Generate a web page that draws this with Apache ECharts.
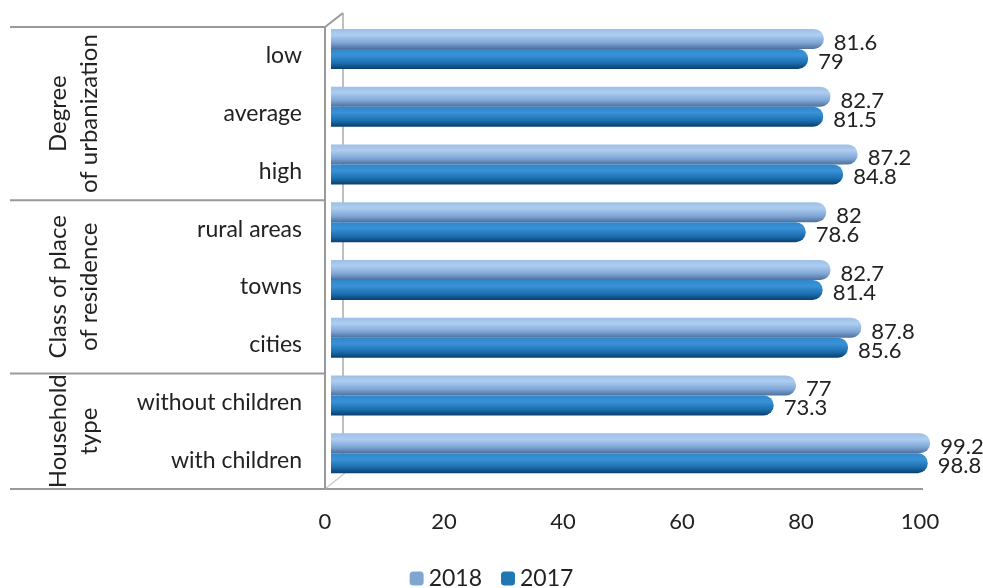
<!DOCTYPE html>
<html><head><meta charset="utf-8">
<script src="https://cdn.jsdelivr.net/npm/echarts@6/dist/echarts.min.js"></script>
<style>html,body{margin:0;padding:0;background:#fff}#c{width:983px;height:588px}</style>
</head><body><div id="c"></div>
<script>
const categories = ['low','average','high','rural areas','towns','cities','without children','with children'];
const groups = ['Degree\nof urbanization','Class of place\nof residence','Household\ntype'];
const groupSizes = [3,3,2];
const values2018 = [81.6,82.7,87.2,82,82.7,87.8,77,99.2];
const values2017 = [79,81.5,84.8,78.6,81.4,85.6,73.3,98.8];
const xTicks = [0,20,40,60,80,100];

const FONT = 'Lato';
const W = 983, H = 588;
const chart = echarts.init(document.getElementById('c'));
const grad = (stops) => new echarts.graphic.LinearGradient(0,0,0,1,stops.map(s=>({offset:s[0],color:s[1]})));
// axis frame (front plane)
const AL = 325, AR = 63, AT = 27, AB = 99;
// bar plane (shifted for depth)
const BL = 331, BR = 48, BT = 20, BB = 106;
const tickMin = xTicks[0], tickMax = xTicks[xTicks.length-1], tickStep = xTicks[1]-xTicks[0];
const labelStyle = {fontSize:22,color:'#222',fontFamily:FONT};
const option = {
  animation:false,
  textStyle:{fontFamily:FONT},
  grid:[{left:BL,right:BR,top:BT,bottom:BB},{left:AL,right:AR,top:AT,bottom:AB}],
  legend:{top:562,left:'center',itemWidth:14,itemHeight:14,itemGap:19,
    textStyle:{fontSize:23,color:'#222',fontFamily:FONT},
    data:[{name:'2018',itemStyle:{color:'#7fa6d1'}},{name:'2017',itemStyle:{color:'#1f78b4'}}]},
  xAxis:[
    {gridIndex:0,type:'value',min:tickMin,max:tickMax,interval:tickStep,show:false},
    {gridIndex:1,type:'value',min:tickMin,max:tickMax,interval:tickStep,
      axisLine:{show:false},axisTick:{show:false},splitLine:{show:false},
      axisLabel:Object.assign({margin:22},labelStyle)}
  ],
  yAxis:[
    {gridIndex:0,type:'category',data:categories,inverse:true,show:false},
    {gridIndex:1,type:'category',data:categories,inverse:true,
      axisLine:{show:true,lineStyle:{color:'#999',width:2}},axisTick:{show:false},
      axisLabel:{fontSize:23,color:'#222',margin:23,fontFamily:FONT}}
  ],
  series:[
    {name:'2018',type:'bar',data:values2018,barWidth:20,barGap:'0%',xAxisIndex:0,yAxisIndex:0,
      itemStyle:{color:grad([[0,'#9dbfe6'],[0.3,'#aecdf0'],[0.7,'#7ea6d6'],[1,'#4f709a']]),borderRadius:[0,10,10,0]},
      label:Object.assign({show:true,position:'right',distance:10,offset:[0,4]},labelStyle)},
    {name:'2017',type:'bar',data:values2017,barWidth:20,xAxisIndex:0,yAxisIndex:0,
      itemStyle:{color:grad([[0,'#2f86cc'],[0.3,'#3a92d6'],[0.7,'#1c6fb0'],[1,'#0b3f6e']]),borderRadius:[0,10,10,0]},
      label:Object.assign({show:true,position:'right',distance:10,offset:[0,3]},labelStyle)}
  ]
};
chart.setOption(option);

// frame lines, group separators & labels
const plotH = H - AT - AB;
const band = plotH / categories.length;
const g = [];
const lineStyle = {stroke:'#999',lineWidth:2};
const depthX = 18, depthY = 14;
let idx = 0;
g.push({type:'line',shape:{x1:10,y1:AT,x2:AL,y2:AT},style:lineStyle});
g.push({type:'line',shape:{x1:AL,y1:AT,x2:AL+depthX,y2:AT-depthY},style:lineStyle});
g.push({type:'line',shape:{x1:AL+depthX,y1:AT-depthY,x2:AL+depthX,y2:H-AB-16},style:{stroke:'#aaa',lineWidth:1.5}});
g.push({type:'line',shape:{x1:10,y1:H-AB,x2:W-AR+3,y2:H-AB},style:lineStyle});
g.push({type:'line',shape:{x1:AL,y1:H-AB,x2:AL+depthX+2,y2:H-AB-16},style:{stroke:'#ccc',lineWidth:1.5}});
groups.forEach((name,i)=>{
  const y0 = AT + idx*band, y1 = AT + (idx+groupSizes[i])*band;
  idx += groupSizes[i];
  if (i < groups.length-1) g.push({type:'line',shape:{x1:10,y1:y1,x2:AL,y2:y1},style:lineStyle});
  g.push({type:'text',x:74,y:(y0+y1)/2,rotation:Math.PI/2,
    style:{text:name,fontSize:24,fill:'#222',fontFamily:FONT,align:'center',verticalAlign:'middle',lineHeight:31}});
});
chart.setOption({graphic:g});
</script></body></html>
